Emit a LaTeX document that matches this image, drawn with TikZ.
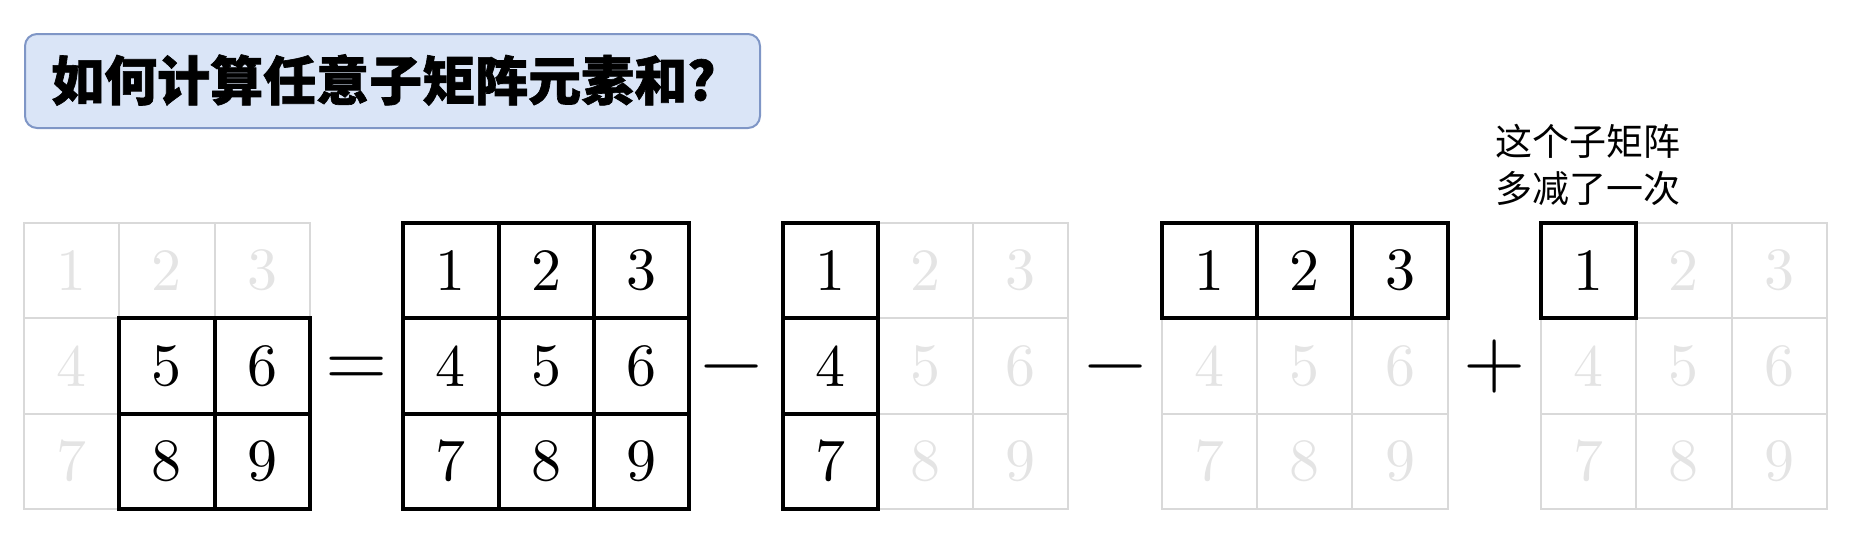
\documentclass[tikz,border=0pt]{standalone}
\usepackage{fontspec}
\newfontfamily\cjk{Noto Sans CJK SC}[BoldFeatures={FakeBold=1.2}]
\newfontfamily\digitfont{lmroman10-regular}[Extension=.otf]
\definecolor{gridgray}{HTML}{D9D9D9}
\definecolor{digitgray}{HTML}{E4E4E4}
\definecolor{titlefill}{HTML}{DAE5F7}
\definecolor{titledraw}{HTML}{7F96C6}
\begin{document}
\begin{tikzpicture}[x=1pt,y=-1pt,
  cell/.style={draw=gridgray, line width=2pt, minimum width=95.3pt, minimum height=95.3pt,
    inner sep=0pt, outer sep=0pt, text=digitgray, font=\digitfont\fontsize{60}{72}\selectfont},
  hcell/.style={cell, draw=black, line width=4pt, text=black},
  op/.style={anchor=base, inner sep=0pt, font=\digitfont\fontsize{80}{96}\selectfont},
  titlebox/.style={draw=titledraw, fill=titlefill, line width=2pt, rounded corners=12pt,
    minimum width=735pt, minimum height=94pt, anchor=north west, inner sep=0pt}]
\useasboundingbox (0,0) rectangle (1868,538);
% title
\node[titlebox] (title) at (24,33) {};
\node[anchor=west, inner sep=0pt, font=\cjk\bfseries\fontsize{53}{64}\selectfont] (titletext) at (51,80) {如何计算任意子矩阵元素和?};
% note
\node[anchor=west, align=left, inner sep=0pt, font=\cjk\fontsize{37}{47}\selectfont] (note) at (1495,164.5) {这个子矩阵\\多减了一次};
% light cells
\foreach \g in {1,...,5} {
  \foreach \n in {1,...,9} {
    \pgfmathsetmacro\cx{24+379.25*(\g-1)+47.65+95.3*mod(\n-1,3)}
    \pgfmathsetmacro\cy{223+47.65+95.3*int((\n-1)/3)}
    \node[cell] (g\g n\n) at (\cx,\cy) {\n};
  }
}
% highlighted cells
\foreach \g/\n in {1/5,1/6,1/8,1/9,
  2/1,2/2,2/3,2/4,2/5,2/6,2/7,2/8,2/9,
  3/1,3/4,3/7,
  4/1,4/2,4/3,
  5/1} {
  \node[hcell] (h\g n\n) at (g\g n\n.center) {\n};
}
% operators
\node[op] (eq) at (356.5,386) {=};
\node[op] (minusA) at (731.5,386) {−};
\node[op] (minusB) at (1115.5,386) {−};
\node[op] (plus) at (1494.5,386) {+};
\end{tikzpicture}
\end{document}
